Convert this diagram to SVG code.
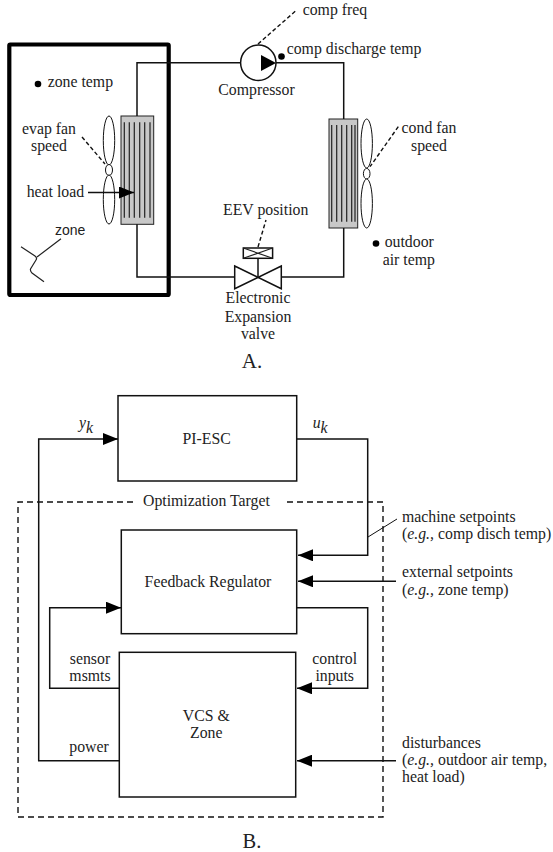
<svg xmlns="http://www.w3.org/2000/svg" width="553" height="852" viewBox="0 0 553 852">
<style>
text{font-family:"Liberation Serif","Times New Roman",serif;font-size:15.8px;fill:#222}
.m{text-anchor:middle}
.l{fill:none;stroke:#111;stroke-width:1.5}
.b{fill:#fff;stroke:#111;stroke-width:1.5}
.d{fill:none;stroke:#111;stroke-width:1.4;stroke-dasharray:4 2.5}
.f{fill:none;stroke:#222;stroke-width:1.2}
.c{fill:#c8c8c8;stroke:#222;stroke-width:1}
.o{fill:#fff;stroke:#111;stroke-width:1}
.a{fill:none;stroke:#111;stroke-width:1.5;marker-end:url(#ah)}
</style>
<defs>
<marker id="ah" markerUnits="userSpaceOnUse" markerWidth="16" markerHeight="12" refX="15" refY="6" orient="auto"><path d="M0 0L15 6L0 12Z" fill="#000"/></marker>
</defs>
<rect width="553" height="852" fill="#fff"/>
<g id="zone">
<rect x="9.3" y="44.5" width="159.4" height="250.5" rx="1" fill="none" stroke="#000" stroke-width="4.2"/>
<path class="f" d="M21 246.7L35 256Q37.5 258 36 260L30.5 269Q30 271 32 273L44 281.7M37 257L61 238.7"/>
<text x="55" y="235" style="font-family:'Liberation Sans',Arial,sans-serif;font-size:14px">zone</text>
<circle cx="38" cy="84" r="3.3" fill="#000"/>
<text x="47.7" y="87.3">zone temp</text>
<text class="m" x="49" y="134">evap fan</text>
<text class="m" x="49" y="151">speed</text>
<text x="26.7" y="197">heat load</text>
</g>
<g id="evaporator">
<ellipse class="o" cx="109" cy="140.5" rx="5.7" ry="24.5"/>
<ellipse class="o" cx="109" cy="170" rx="3.5" ry="5.5"/>
<ellipse class="o" cx="109" cy="199.5" rx="5.7" ry="24.5"/>
<rect class="c" x="121" y="116" width="32.7" height="108.3"/>
<path class="f" d="M124.3 122.3V217.7M129.3 122.3V217.7M134.3 122.3V217.7M139.7 122.3V217.7M144.7 122.3V217.7M150 122.3V217.7"/>
</g>
<g id="condenser">
<ellipse class="o" cx="366.7" cy="143.5" rx="5.7" ry="24.5"/>
<ellipse class="o" cx="366.7" cy="173.7" rx="3.3" ry="5.3"/>
<ellipse class="o" cx="366.7" cy="203.5" rx="5.7" ry="24.5"/>
<rect class="c" x="329" y="119" width="28.7" height="109"/>
<path class="f" d="M331.7 125V221.7M336.7 125V221.7M341.7 125V221.7M346.7 125V221.7M351.7 125V221.7M355 125V221.7"/>
<text class="m" x="429" y="132.7">cond fan</text>
<text class="m" x="429" y="150.7">speed</text>
<circle cx="376" cy="243.5" r="3.3" fill="#000"/>
<text x="384.7" y="246.7">outdoor</text>
<text x="382.7" y="265">air temp</text>
</g>
<g id="compressor">
<circle class="b" cx="258.3" cy="62.7" r="17.7"/>
<path d="M261 55L276 63L261 71Z" fill="#000"/>
<circle cx="281.5" cy="56.5" r="3.3" fill="#000"/>
<text x="302.7" y="15">comp freq</text>
<text x="286.7" y="54">comp discharge temp</text>
<text class="m" x="256.5" y="95">Compressor</text>
</g>
<g id="valve">
<path class="b" d="M234.7 266L281.3 288.7V266L234.7 288.7Z"/>
<path class="l" d="M258 258.3V277"/>
<rect class="b" x="243.3" y="248" width="29.3" height="10.3"/>
<path class="f" d="M243.3 248L272.6 258.3M243.3 258.3L272.6 248"/>
<text class="m" x="265.7" y="215">EEV position</text>
<text class="m" x="258" y="303.3">Electronic</text>
<text class="m" x="258" y="321.7">Expansion</text>
<text class="m" x="258" y="338.7">valve</text>
</g>
<text class="m" x="252" y="368" style="font-size:21px">A.</text>
<g id="optimization-target">
<path class="d" d="M133 502H18V817H383V502H284" style="stroke-dasharray:6 4"/>
<text x="143" y="506">Optimization Target</text>
</g>
<g id="pi-esc">
<rect class="b" x="118" y="395.7" width="178.7" height="85.3"/>
<text class="m" x="206.7" y="444">PI-ESC</text>
<text x="79" y="428" style="font-style:italic">y<tspan dy="5">k</tspan></text>
<text x="312.7" y="428" style="font-style:italic">u<tspan dy="5">k</tspan></text>
</g>
<g id="feedback-regulator">
<rect class="b" x="121.3" y="530" width="175.4" height="103.7"/>
<text class="m" x="208" y="586.7">Feedback Regulator</text>
</g>
<g id="vcs-zone">
<rect class="b" x="119.3" y="652.3" width="176.4" height="144.7"/>
<text class="m" x="206.3" y="720.7">VCS &amp;</text>
<text class="m" x="206.3" y="737.7">Zone</text>
</g>
<g id="labels-b">
<text class="m" x="90" y="664">sensor</text>
<text class="m" x="90" y="681">msmts</text>
<text class="m" x="89" y="751.7">power</text>
<text class="m" x="334.7" y="664">control</text>
<text class="m" x="334.7" y="681">inputs</text>
<text x="402" y="521.7">machine setpoints</text>
<text x="402" y="539">(<tspan font-style="italic">e.g.,</tspan> comp disch temp)</text>
<text x="402" y="576.7">external setpoints</text>
<text x="402" y="595">(<tspan font-style="italic">e.g.,</tspan> zone temp)</text>
<text x="402" y="747.7">disturbances</text>
<text x="402" y="765">(<tspan font-style="italic">e.g.,</tspan> outdoor air temp,</text>
<text x="402" y="782.3">heat load)</text>
</g>
<text class="m" x="252" y="847.5" style="font-size:20.5px">B.</text>
<g id="connectors">
<path class="l" d="M137 116V62.7H240.6M276 62.7H343.7V119M343.7 228V277H281.3M234.7 277H137V224.3"/>
<path class="d" d="M258 44L296.7 10"/>
<path class="d" d="M82 137L105 164"/>
<path class="d" d="M398.3 126.7L370 166.7"/>
<path class="d" d="M258 247L266 220"/>
<path class="a" d="M88 192.5H134"/>
<path class="a" d="M119.3 760.7H38.7V439H118"/>
<path class="a" d="M296.7 439H367.7V555.3H298"/>
<path class="a" d="M119.3 688.3H49.7V607.7H121"/>
<path class="a" d="M296.7 607.7H367.7V688.3H297"/>
<path class="a" d="M396 581.3H298"/>
<path class="a" d="M396 760.7H297"/>
<path d="M368 537L397 519" fill="none" stroke="#111"/>
</g>
</svg>
